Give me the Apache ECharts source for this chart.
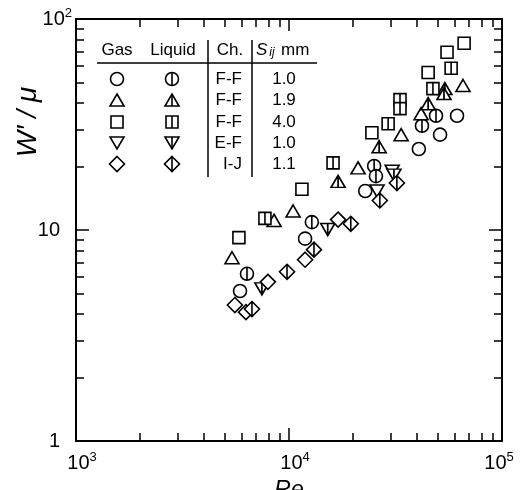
<!DOCTYPE html>
<html>
<head>
<meta charset="utf-8">
<script src="https://cdn.jsdelivr.net/npm/echarts@6/dist/echarts.min.js"></script>
<style>
  html, body { margin: 0; padding: 0; background: #fff; }
  #main { width: 521px; height: 490px; }
</style>
</head>
<body>
<div id="main"></div>
<script>
// Re, W'/mu
const gasFF10 = [[5890, 5.14], [11900, 9.1], [22800, 15.3], [40700, 24.2], [51200, 28.3], [61500, 34.8]]
const liqFF10 = [[6350, 6.2], [12800, 10.9], [25100, 20.1], [25600, 18.0], [42100, 31.2], [49000, 34.8]]
const gasFF19 = [[5400, 7.39], [8510, 11.1], [10450, 12.3], [21100, 19.7], [33600, 28.3], [41700, 35.6], [65600, 48.4]]
const liqFF19 = [[17000, 17.0], [26500, 24.8], [45000, 39.7], [53900, 46.8], [53400, 44.3]]
const gasFF40 = [[5820, 9.2], [11500, 15.6], [24500, 28.9], [45000, 55.8], [55200, 69.6], [66400, 76.8]]
const liqFF40 = [[7710, 11.35], [16100, 20.8], [29200, 31.9], [33200, 41.5], [33200, 37.6], [47400, 46.8], [57700, 58.4]]
const gasEF10 = [[25900, 15.3], [30500, 19.0]]
const liqEF10 = [[7460, 5.26], [15200, 10.05], [31100, 18.2]]
const gasIJ11 = [[5570, 4.41], [6280, 4.08], [7960, 5.68], [11900, 7.23], [17000, 11.2]]
const liqIJ11 = [[6700, 4.22], [9790, 6.34], [13100, 8.07], [19500, 10.7], [26700, 13.8], [32100, 16.7]]

const xMajor = [1000, 10000, 100000]
const xMinor = [2000, 3000, 4000, 5000, 6000, 7000, 8000, 9000,
                20000, 30000, 40000, 50000, 60000, 70000, 80000, 90000]
const yMajor = [1, 10, 100]
const yMinor = [2, 3, 4, 5, 6, 7, 8, 9, 20, 30, 40, 50, 60, 70, 80, 90]

// table rows: channel, spacing
const channels = ['F-F', 'F-F', 'F-F', 'E-F', 'I-J']
const spacings = ['1.0', '1.9', '4.0', '1.0', '1.1']

const FONT = '"Liberation Sans", Arial, Helvetica, sans-serif'

// open shapes, liquid ones get a vertical bar
const shapes = {
    circle: 'M0 10C0 4.48 4.48 0 10 0C15.52 0 20 4.48 20 10C20 15.52 15.52 20 10 20C4.48 20 0 15.52 0 10Z',
    triangle: 'M10 0L20 18L0 18Z',
    square: 'M0 0L20 0L20 20L0 20Z',
    down: 'M0 0L20 0L10 18Z',
    diamond: 'M10 0L20 10L10 20L0 10Z'
}
const bars = {
    circle: 'M10 0L10 20',
    triangle: 'M10 0L10 18',
    square: 'M10 0L10 20',
    down: 'M10 0L10 18',
    diamond: 'M10 0L10 20'
}
const sizes = {
    circle: [13, 13],
    triangle: [14, 12],
    square: [12, 12],
    down: [14, 12],
    diamond: [15, 15]
}
const rowShapes = ['circle', 'triangle', 'square', 'down', 'diamond']
const pathOf = (shape, liquid) => shapes[shape] + (liquid ? bars[shape] : '')

const chart = echarts.init(document.getElementById('main'), null, { renderer: 'canvas' })

const seriesList = []
const groups = [
    [gasFF10, liqFF10], [gasFF19, liqFF19], [gasFF40, liqFF40], [gasEF10, liqEF10], [gasIJ11, liqIJ11]
]
groups.forEach((pair, i) => {
    pair.forEach((data, j) => {
        seriesList.push({
            type: 'scatter',
            name: (j ? 'Liquid ' : 'Gas ') + channels[i] + ' ' + spacings[i],
            xAxisIndex: 0,
            yAxisIndex: 0,
            data: data,
            symbol: 'path://' + pathOf(rowShapes[i], j === 1),
            symbolSize: sizes[rowShapes[i]],
            itemStyle: { color: '#fff', borderColor: '#000', borderWidth: 1.6, opacity: 1 },
            emphasis: { disabled: true },
            z: 3
        })
    })
})

const supRich = {
    base: { fontSize: 20, fontFamily: FONT, color: '#000', lineHeight: 24 },
    sup: { fontSize: 13, fontFamily: FONT, color: '#000', verticalAlign: 'top', lineHeight: 12, padding: [0, 0, 10, 0] },
    pad: { width: 12 },
    pad2: { width: 6 }
}

function logAxis(kind, position, major, ticks, len, extra) {
    const isX = kind === 'x'
    const ax = {
        type: 'log',
        logBase: 10,
        position: position,
        min: isX ? 1000 : 1,
        max: isX ? 100000 : 100,
        gridIndex: 0,
        axisLine: { show: major, lineStyle: { color: '#000', width: 2 } },
        axisTick: { show: true, inside: true, length: len, customValues: ticks, lineStyle: { color: '#000', width: 1.5 } },
        axisLabel: { show: false },
        splitLine: { show: false },
        minorTick: { show: false },
        axisPointer: { show: false }
    }
    return Object.assign(ax, extra || {})
}

const xLabel = {
    show: true,
    customValues: xMajor,
    margin: 10,
    formatter: v => {
        const p = Math.round(Math.log10(v))
        // last one sits against the edge
        if (p >= 5) return '{base|10}{sup|' + p + '}{pad2|}'
        return '{pad|}{base|10}{sup|' + p + '}'
    },
    rich: supRich
}
const yLabel = {
    show: true,
    customValues: yMajor,
    margin: 4,
    formatter: v => {
        if (v >= 100) return '{base|10}{sup|2}'
        if (v >= 10) return '{base|10}{pad|}'
        return '{base|1}{pad|}'
    },
    rich: supRich
}

// ECharts flips a repeated position to the other side, hence the order
const xAxes = [
    logAxis('x', 'bottom', true, xMajor, 13, {
        axisLabel: xLabel,
        name: 'Re',
        nameLocation: 'middle',
        nameGap: 33,
        nameTextStyle: { fontFamily: FONT, fontStyle: 'italic', fontSize: 23, color: '#000' }
    }),
    logAxis('x', 'top', true, xMajor, 12),
    logAxis('x', 'top', false, xMinor, 8),
    logAxis('x', 'bottom', false, xMinor, 8)
]
const yAxes = [
    logAxis('y', 'left', true, yMajor, 13, { axisLabel: yLabel }),
    logAxis('y', 'right', true, yMajor, 13),
    logAxis('y', 'right', false, yMinor, 8),
    logAxis('y', 'left', false, yMinor, 8)
]

// table drawn in pixels
const tableText = (text, x, y, align, size) => ({
    type: 'text',
    x: x,
    y: y,
    style: {
        text: text,
        fontFamily: FONT,
        fontSize: size || 17,
        fill: '#000',
        align: align,
        verticalAlign: 'middle'
    },
    z: 10
})
const tableLine = (x1, y1, x2, y2, w) => ({
    type: 'line',
    shape: { x1: x1, y1: y1, x2: x2, y2: y2 },
    style: { stroke: '#000', lineWidth: w || 1.5 },
    z: 10
})
const markStyle = { fill: '#fff', stroke: '#000', lineWidth: 1.6 }
const tableMark = (shape, liquid, cx, cy) => {
    const [w, h] = sizes[shape]
    const l = cx - w / 2, r = cx + w / 2, t = cy - h / 2, b = cy + h / 2
    let el
    if (shape === 'circle') {
        el = { type: 'circle', shape: { cx: cx, cy: cy, r: w / 2 } }
    } else {
        const pts = {
            triangle: [[cx, t], [r, b], [l, b]],
            square: [[l, t], [r, t], [r, b], [l, b]],
            down: [[l, t], [r, t], [cx, b]],
            diamond: [[cx, t], [r, cy], [cx, b], [l, cy]]
        }[shape]
        el = { type: 'polygon', shape: { points: pts } }
    }
    el.style = markStyle
    el.z = 10
    const out = [el]
    if (liquid) out.push(tableLine(cx, t, cx, b, 1.6))
    return out
}

const rowY = [79, 100, 122, 143, 164]
let graphics = [
    tableText('Gas', 117, 50, 'center'),
    tableText('Liquid', 173, 50, 'center'),
    tableText('Ch.', 230, 50, 'center'),
    {
        type: 'text',
        x: 256,
        y: 50,
        style: {
            text: '{s|S}{i|ij} {m|mm}',
            verticalAlign: 'middle',
            align: 'left',
            rich: {
                s: { fontFamily: FONT, fontSize: 17, fontStyle: 'italic', fill: '#000' },
                i: { fontFamily: FONT, fontSize: 12, fontStyle: 'italic', fill: '#000', verticalAlign: 'bottom', padding: [6, 0, 0, 2] },
                m: { fontFamily: FONT, fontSize: 17, fill: '#000', padding: [0, 0, 0, 3] }
            }
        },
        z: 10
    },
    tableLine(97, 63, 317, 63),
    tableLine(208, 40, 208, 177),
    tableLine(252, 40, 252, 177)
]
rowY.forEach((y, i) => {
    graphics = graphics.concat(tableMark(rowShapes[i], false, 117, y))
    graphics = graphics.concat(tableMark(rowShapes[i], true, 172, y))
    graphics.push(tableText(channels[i], 242, y, 'right'))
    graphics.push(tableText(spacings[i], 284, y, 'center'))
})
graphics.push({
    type: 'text',
    x: 28,
    y: 122,
    rotation: Math.PI / 2,
    style: {
        text: 'W′ / μ',
        fontFamily: FONT,
        fontStyle: 'italic',
        fontSize: 28,
        fill: '#000',
        align: 'center',
        verticalAlign: 'middle'
    },
    z: 10
})

chart.setOption({
    animation: false,
    backgroundColor: '#fff',
    grid: { left: 76, right: 19, top: 19, bottom: 49, containLabel: false, outerBoundsMode: 'none' },
    xAxis: xAxes,
    yAxis: yAxes,
    series: seriesList,
    graphic: graphics
})
</script>
</body>
</html>
